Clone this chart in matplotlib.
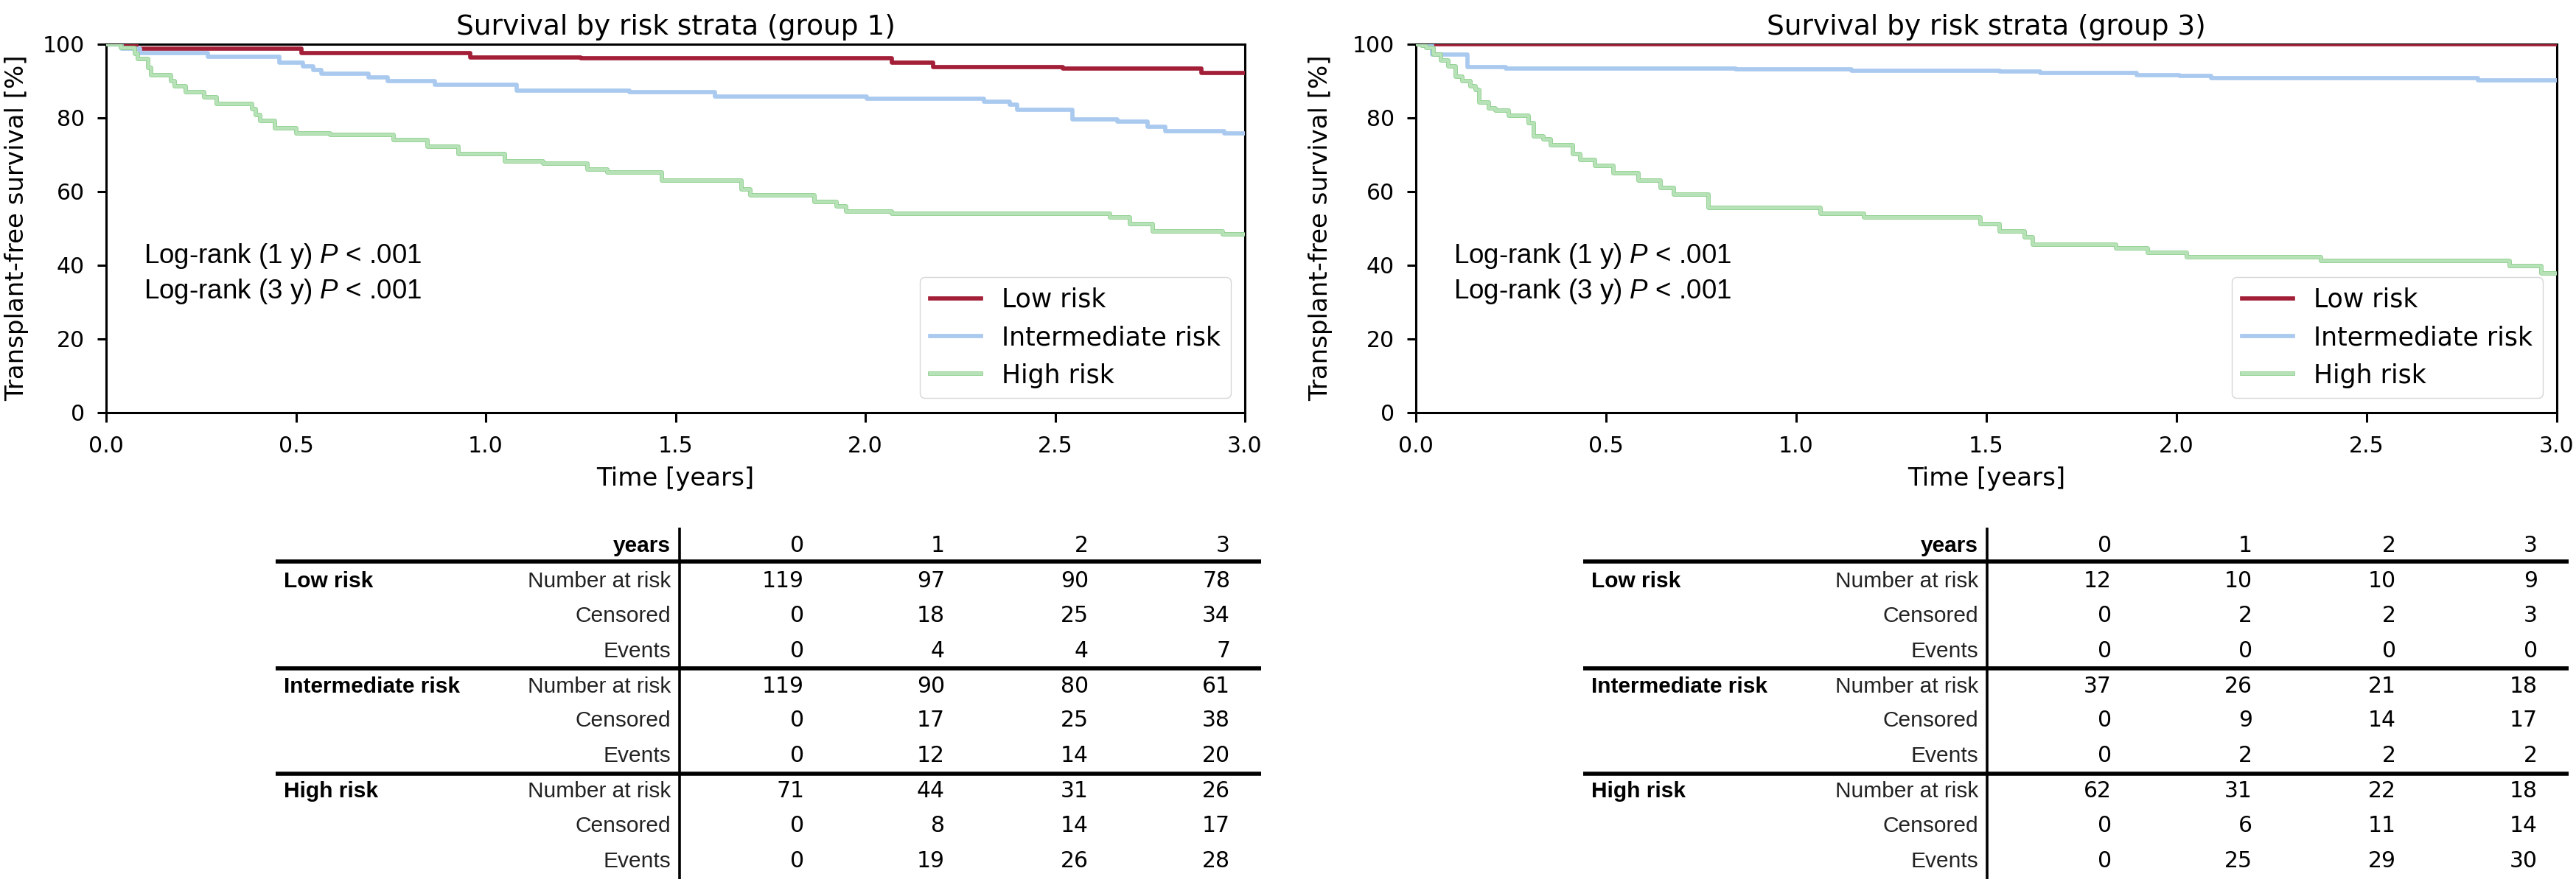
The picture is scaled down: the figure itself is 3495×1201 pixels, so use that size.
import matplotlib.pyplot as plt
import matplotlib.patheffects as pe

plt.rcParams['mathtext.fontset'] = 'custom'
plt.rcParams['mathtext.rm'] = 'Liberation Sans'
plt.rcParams['mathtext.it'] = 'Liberation Sans:italic'

## curve data (time in years, survival in %)
g1_low_t = [0, 0.080, 0.515, 0.960, 1.250, 2.070, 2.178, 2.520, 2.885]
g1_low_s = [100, 98.7, 97.6, 96.4, 96.2, 94.9, 93.7, 93.4, 92.1]

g1_int_t = [0, 0.040, 0.090, 0.268, 0.456, 0.519, 0.545, 0.567, 0.692, 0.741,
            0.866, 1.081, 1.378, 1.603, 2.004, 2.313, 2.380, 2.400, 2.545,
            2.665, 2.743, 2.791, 2.946]
g1_int_s = [100, 98.7, 97.6, 96.6, 94.9, 93.9, 92.9, 91.9, 90.9, 89.9,
            88.9, 87.4, 86.9, 85.7, 85.2, 84.4, 83.5, 82.2, 79.5,
            78.9, 77.5, 76.3, 75.7]

g1_high_t = [0, 0.038, 0.075, 0.084, 0.110, 0.118, 0.170, 0.181, 0.210, 0.258,
             0.292, 0.385, 0.395, 0.405, 0.445, 0.500, 0.590, 0.757, 0.847,
             0.929, 1.050, 1.151, 1.267, 1.320, 1.465, 1.674, 1.698, 1.866,
             1.925, 1.950, 2.070, 2.645, 2.697, 2.758, 2.942]
g1_high_s = [100, 98.9, 97.4, 95.9, 93.5, 91.6, 90.0, 88.6, 87.0, 85.5,
             83.7, 82.3, 80.8, 79.2, 77.2, 75.8, 75.3, 73.9, 72.2,
             70.2, 68.2, 67.6, 65.9, 65.2, 63.0, 60.6, 58.9, 57.2,
             55.9, 54.6, 53.9, 52.9, 51.2, 49.2, 48.4]

g3_low_t = [0]
g3_low_s = [100]

g3_int_t = [0, 0.042, 0.136, 0.237, 0.842, 1.145, 1.534, 1.642, 1.895, 2.007,
            2.091, 2.793]
g3_int_s = [100, 97.1, 93.8, 93.4, 93.1, 92.8, 92.6, 92.2, 91.6, 91.3,
            90.8, 90.2]

g3_high_t = [0, 0.015, 0.027, 0.046, 0.066, 0.085, 0.104, 0.123, 0.143, 0.157,
             0.167, 0.191, 0.210, 0.244, 0.297, 0.311, 0.335, 0.355, 0.413,
             0.432, 0.470, 0.519, 0.586, 0.644, 0.678, 0.769, 1.063, 1.179,
             1.485, 1.534, 1.600, 1.622, 1.842, 1.925, 2.027, 2.379, 2.876,
             2.959]
g3_high_s = [100, 99.5, 98.9, 97.2, 95.6, 93.9, 91.2, 89.9, 88.6, 87.6,
             84.2, 82.6, 81.9, 80.6, 78.6, 74.9, 74.2, 72.6, 70.2,
             68.6, 66.9, 64.9, 62.9, 60.9, 59.2, 55.6, 53.9, 52.9,
             51.2, 49.2, 47.6, 45.6, 44.6, 43.4, 42.2, 41.1, 39.8,
             37.8]

strata = ['Low risk', 'Intermediate risk', 'High risk']

## table data
years = [0, 1, 2, 3]
row_names = ['Number at risk', 'Censored', 'Events']

g1_low_tab = [[119, 97, 90, 78], [0, 18, 25, 34], [0, 4, 4, 7]]
g1_int_tab = [[119, 90, 80, 61], [0, 17, 25, 38], [0, 12, 14, 20]]
g1_high_tab = [[71, 44, 31, 26], [0, 8, 14, 17], [0, 19, 26, 28]]

g3_low_tab = [[12, 10, 10, 9], [0, 2, 2, 3], [0, 0, 0, 0]]
g3_int_tab = [[37, 26, 21, 18], [0, 9, 14, 17], [0, 2, 2, 2]]
g3_high_tab = [[62, 31, 22, 18], [0, 6, 11, 14], [0, 25, 29, 30]]

## styles
c_low = '#a31f38'
c_int = '#a9c9ef'
c_high = '#b7e2b7'
c_high_edge = '#86cc86'

W, H = 3495, 1201
fig = plt.figure(figsize=(W / 100, H / 100), dpi=100)


def pixel_axes(x0, y0, x1, y1):
    return fig.add_axes([x0 / W, 1 - y1 / H, (x1 - x0) / W, (y1 - y0) / H])


def draw_km(ax, curves, title, ypad):
    styles = [
        dict(color=c_low, lw=4.1),
        dict(color=c_int, lw=4.1),
        dict(color=c_high, lw=2.9,
             path_effects=[pe.Stroke(linewidth=4.1, foreground=c_high_edge), pe.Normal()]),
    ]
    for (t, s), name, st in zip(curves, strata, styles):
        ax.step(t + [3.2], s + [s[-1]], where='post', label=name, zorder=3, **st)
    ax.set_xlim(0, 3)
    ax.set_ylim(0, 100)
    ax.set_xticks([0, 0.5, 1.0, 1.5, 2.0, 2.5, 3.0])
    ax.set_yticks([0, 20, 40, 60, 80, 100])
    ax.tick_params(axis='both', labelsize=21.5, length=9, width=2.2, direction='out')
    ax.tick_params(axis='x', pad=14)
    ax.tick_params(axis='y', pad=12)
    for sp in ax.spines.values():
        sp.set_linewidth(2.2)
        sp.set_color('black')
    ax.set_title(title, fontsize=27, pad=9)
    ax.set_xlabel('Time [years]', fontsize=24.5, labelpad=9)
    ax.set_ylabel('Transplant-free survival [%]', fontsize=24.5, labelpad=ypad)
    ax.text(0.033, 0.405, 'Log-rank (1 y) $P$ < .001', transform=ax.transAxes,
            family='Liberation Sans', fontsize=26.5, va='baseline')
    ax.text(0.033, 0.309, 'Log-rank (3 y) $P$ < .001', transform=ax.transAxes,
            family='Liberation Sans', fontsize=26.5, va='baseline')
    ax.legend(loc='lower right', fontsize=25, borderaxespad=0.55)


ax1 = pixel_axes(144, 59.5, 1689, 559.5)
draw_km(ax1, [(g1_low_t, g1_low_s), (g1_int_t, g1_int_s), (g1_high_t, g1_high_s)],
        'Survival by risk strata (group 1)', 13)

ax3 = pixel_axes(1921, 59.5, 3469, 559.5)
draw_km(ax3, [(g3_low_t, g3_low_s), (g3_int_t, g3_int_s), (g3_high_t, g3_high_s)],
        'Survival by risk strata (group 3)', 19)

## number-at-risk tables, drawn on an overlay in pixel units
tab = fig.add_axes([0, 0, 1, 1])
tab.set_xlim(0, W)
tab.set_ylim(H, 0)
tab.axis('off')

col_right = [1091, 1282, 1477, 1669]
row_y = [786, 833, 881]
group_step = 142.5


def draw_table(ox, groups):
    tab.plot([922 + ox, 922 + ox], [716, 1193], color='black', lw=2.6, solid_capstyle='butt')
    for y in (762, 907, 1050):
        tab.plot([374 + ox, 1711 + ox], [y, y], color='black', lw=4.0, solid_capstyle='butt')
    tab.text(910 + ox, 738 + 11, 'years', ha='right', va='baseline',
             family='Liberation Sans', fontweight='bold', fontsize=21.5)
    for yr, xr in zip(years, col_right):
        tab.text(xr + ox, 738 + 11, str(yr), ha='right', va='baseline', fontsize=21.5)
    for gi, (gname, rows) in enumerate(zip(strata, groups)):
        for ri, (rname, vals) in enumerate(zip(row_names, rows)):
            y = row_y[ri] + gi * group_step + 11
            if ri == 0:
                tab.text(385 + ox, y, gname, ha='left', va='baseline',
                         family='Liberation Sans', fontweight='bold', fontsize=21.5)
            tab.text(910 + ox, y, rname, ha='right', va='baseline',
                     family='Liberation Sans', fontsize=21.5, color='#222222')
            for v, xr in zip(vals, col_right):
                tab.text(xr + ox, y, str(v), ha='right', va='baseline', fontsize=21.5)


draw_table(0, [g1_low_tab, g1_int_tab, g1_high_tab])
draw_table(1774, [g3_low_tab, g3_int_tab, g3_high_tab])

fig.savefig('out.png', dpi=100)
